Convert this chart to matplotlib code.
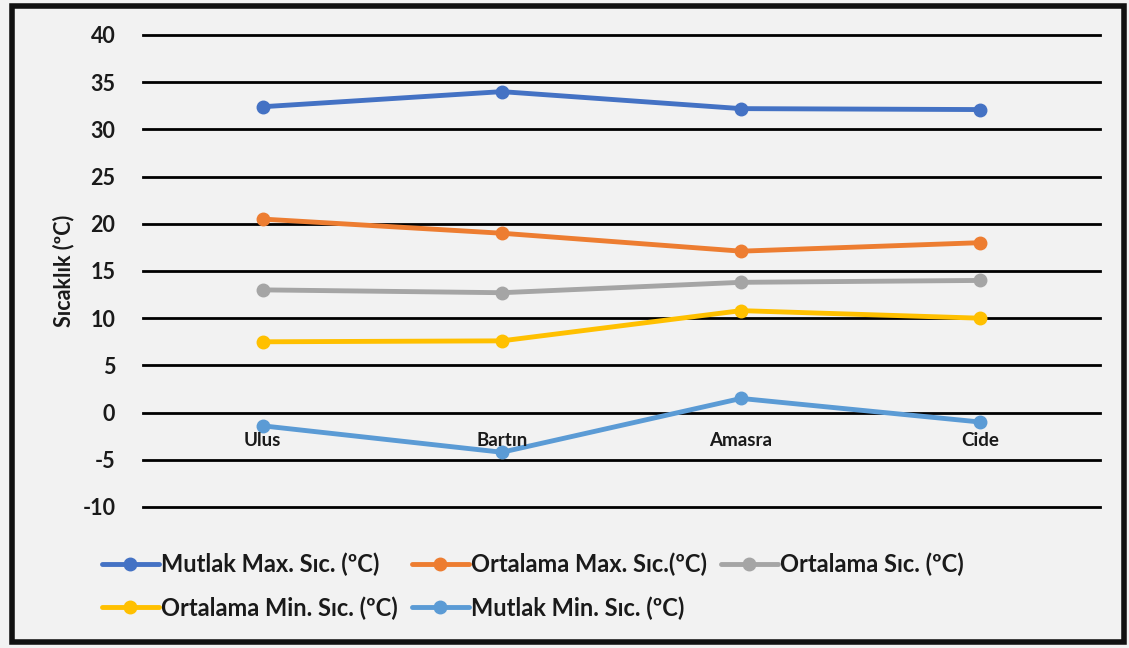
import matplotlib
matplotlib.use("Agg")
import matplotlib.pyplot as plt
from matplotlib.patches import Rectangle

plt.rcParams['font.family'] = ['Lato', 'DejaVu Sans']
plt.rcParams['font.weight'] = 'bold'

# --- Data ---
stations = ["Ulus", "Bartın", "Amasra", "Cide"]
series_names = [
    "Mutlak Max. Sıc. (ºC)",
    "Ortalama Max. Sıc.(ºC)",
    "Ortalama Sıc. (ºC)",
    "Ortalama Min. Sıc. (ºC)",
    "Mutlak Min. Sıc. (ºC)",
]
mutlak_max = [32.4, 34.0, 32.2, 32.1]
ortalama_max = [20.5, 19.0, 17.1, 18.0]
ortalama = [13.0, 12.7, 13.8, 14.0]
ortalama_min = [7.5, 7.6, 10.8, 10.0]
mutlak_min = [-1.4, -4.2, 1.5, -1.0]
series_values = [mutlak_max, ortalama_max, ortalama, ortalama_min, mutlak_min]
colors = ["#4472c4", "#ed7d31", "#a5a5a5", "#ffc000", "#5b9bd5"]
yticks = [-10, -5, 0, 5, 10, 15, 20, 25, 30, 35, 40]
txt = "#1a1a1a"

fig = plt.figure(figsize=(11.29, 6.48), dpi=100)
fig.patch.set_facecolor("#f2f2f2")
ax = fig.add_axes([0.1267, 0.2176, 0.8475, 0.7284])
ax.set_facecolor("#f2f2f2")

x = list(range(len(stations)))
handles = []
for vals, name, c in zip(series_values, series_names, colors):
    h, = ax.plot(x, vals, color=c, lw=3.5, marker="o", ms=9, label=name,
                 solid_capstyle="round", zorder=3)
    handles.append(h)

ax.set_xlim(-0.5, len(stations) - 0.5)
ax.set_ylim(-10, 40)
for t in yticks:
    ax.axhline(t, color="black", lw=2, clip_on=False, zorder=1)

ax.set_yticks(yticks)
ax.set_yticklabels([str(t) for t in yticks], fontsize=15.5, fontweight="bold",
                   color=txt)
ax.tick_params(axis="y", length=0, pad=20)
ax.set_xticks([])
for s in ax.spines.values():
    s.set_visible(False)

# category labels sit just under the zero line
for xi, name in zip(x, stations):
    ax.annotate(name, (xi, 0), xytext=(0, -20), textcoords="offset points",
                ha="center", va="center", fontsize=13.5, fontweight="bold",
                color=txt)

ax.set_ylabel("Sıcaklık (ºC)", fontsize=15.5, fontweight="bold", labelpad=6,
              color=txt)

# legend is filled column by column, so reorder to read row by row
order = [0, 3, 1, 4, 2]
leg = fig.legend([handles[i] for i in order], [series_names[i] for i in order],
                 loc="upper left", bbox_to_anchor=(0.082, 0.162), ncol=3,
                 frameon=False, prop={"size": 17, "weight": "bold"},
                 handlelength=2.4, handletextpad=0.1, columnspacing=0.6,
                 labelspacing=0.85, borderaxespad=0)
for t in leg.get_texts():
    t.set_color(txt)

fig.add_artist(Rectangle((0.011, 0.009), 0.985, 0.982, transform=fig.transFigure,
                         fill=False, edgecolor="#111111", lw=4))

fig.savefig("out.png", dpi=100, facecolor=fig.get_facecolor())
